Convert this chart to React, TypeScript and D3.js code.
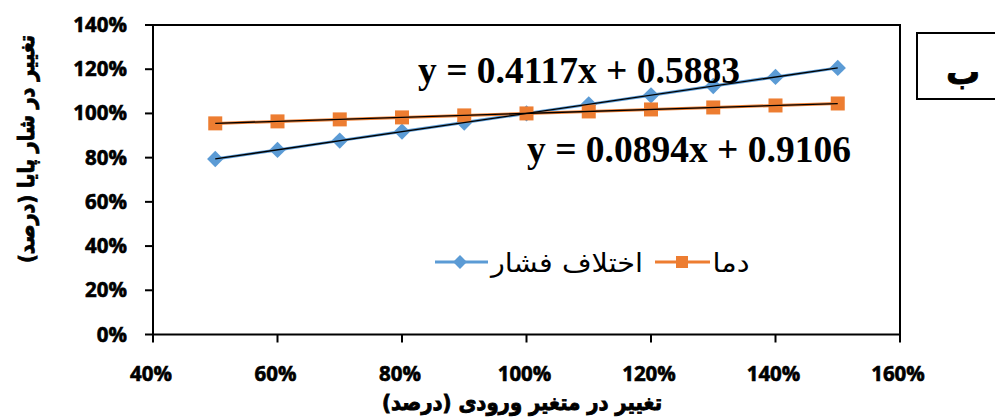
import React from "react";
import * as d3 from "d3";

// Input change (fraction of baseline) and normalized steady flux response
const inputs = [0.5, 0.6, 0.7, 0.8, 0.9, 1.0, 1.1, 1.2, 1.3, 1.4, 1.5];
const pressureDiff = [0.794, 0.835, 0.877, 0.918, 0.959, 1.0, 1.041, 1.082, 1.124, 1.165, 1.206];
const temperature = [0.955, 0.964, 0.973, 0.982, 0.991, 1.0, 1.009, 1.018, 1.027, 1.036, 1.045];

const xTicks = [0.4, 0.6, 0.8, 1.0, 1.2, 1.4, 1.6];
const yTicks = [0, 0.2, 0.4, 0.6, 0.8, 1.0, 1.2, 1.4];

// Linear trendline coefficients [slope, intercept]
const pressureFit = [0.4117, 0.5883];
const temperatureFit = [0.0894, 0.9106];

const seriesNames = ["اختلاف فشار", "دما"];
const blue = "#5B9BD5";
const orange = "#ED7D31";

const W = 995;
const H = 419;
const left = 153;
const right = 900;
const top = 25;
const bottom = 334.5;

export default function App() {
  const x = d3.scaleLinear().domain([0.4, 1.6]).range([left, right]);
  const y = d3.scaleLinear().domain([0, 1.4]).range([bottom, top]);
  const pct = d3.format(".0%");

  const line = d3
    .line<number>()
    .x((_, i) => x(inputs[i]))
    .y((d) => y(d));

  const trend = (fit: number[]) =>
    d3
      .line<number>()
      .x((v) => x(v))
      .y((v) => y(fit[0] * v + fit[1]))([inputs[0], inputs[inputs.length - 1]]) as string;

  const diamond = d3.symbol().type(d3.symbolDiamond2).size(170)() as string;

  const tickFont = "'Open Sans', 'DejaVu Sans', sans-serif";
  const arFont = "'DejaVu Sans', sans-serif";
  const eqFont = "'Liberation Serif', 'Times New Roman', serif";

  return (
    <svg width={W} height={H} style={{ position: "absolute", left: 0, top: 0 }}>
      <rect width={W} height={H} fill="#fff" />

      {/* plot frame */}
      <rect x={left} y={top} width={right - left} height={bottom - top} fill="none" stroke="#000" strokeWidth={2} />

      {/* y ticks and labels */}
      {yTicks.map((t) => (
        <g key={"y" + t}>
          <line x1={left - 8} x2={left} y1={y(t)} y2={y(t)} stroke="#000" strokeWidth={2} />
          <text
            x={127}
            y={y(t) + 7}
            textAnchor="end"
            fontFamily={tickFont}
            fontWeight="bold"
            fontSize={20.5}
            stroke="#000"
            strokeWidth={0.6}
          >
            {pct(t)}
          </text>
        </g>
      ))}

      {/* x ticks and labels */}
      {xTicks.map((t) => (
        <g key={"x" + t}>
          <line x1={x(t)} x2={x(t)} y1={bottom} y2={bottom + 8} stroke="#000" strokeWidth={2} />
          <text
            x={x(t) - 2}
            y={381}
            textAnchor="middle"
            fontFamily={tickFont}
            fontWeight="bold"
            fontSize={20.5}
            stroke="#000"
            strokeWidth={0.6}
          >
            {pct(t)}
          </text>
        </g>
      ))}

      {/* series lines */}
      <path d={line(pressureDiff) as string} fill="none" stroke={blue} strokeWidth={3} />
      <path d={line(temperature) as string} fill="none" stroke={orange} strokeWidth={3} />

      {/* markers */}
      {pressureDiff.map((v, i) => (
        <path key={"d" + i} d={diamond} transform={`translate(${x(inputs[i])},${y(v)})`} fill={blue} />
      ))}
      {temperature.map((v, i) => (
        <rect key={"s" + i} x={x(inputs[i]) - 7} y={y(v) - 7} width={14} height={14} fill={orange} />
      ))}

      {/* trendlines */}
      <path d={trend(pressureFit)} stroke="#000" strokeWidth={1.3} fill="none" />
      <path d={trend(temperatureFit)} stroke="#000" strokeWidth={1.3} fill="none" />

      {/* trendline equations */}
      <text x={418} y={83} fontFamily={eqFont} fontWeight="bold" fontSize={37.5}>
        {`y = ${pressureFit[0]}x + ${pressureFit[1]}`}
      </text>
      <text x={527} y={162} fontFamily={eqFont} fontWeight="bold" fontSize={37.5}>
        {`y = ${temperatureFit[0]}x + ${temperatureFit[1]}`}
      </text>

      {/* legend */}
      <line x1={435} x2={488} y1={262} y2={262} stroke={blue} strokeWidth={3} />
      <path d={diamond} transform="translate(460,262) scale(0.85)" fill={blue} />
      <text x={567} y={272} textAnchor="middle" fontFamily={arFont} fontSize={26} textLength={152} lengthAdjust="spacingAndGlyphs">
        {seriesNames[0]}
      </text>
      <line x1={655} x2={710} y1={262} y2={262} stroke={orange} strokeWidth={3} />
      <rect x={676} y={256} width={12} height={12} fill={orange} />
      <text x={731} y={272} textAnchor="middle" fontFamily={arFont} fontSize={26} textLength={37} lengthAdjust="spacingAndGlyphs">
        {seriesNames[1]}
      </text>

      {/* panel label */}
      <rect x={917} y={33} width={90} height={66} fill="#fff" stroke="#000" strokeWidth={2} />
      <text x={963} y={84} textAnchor="middle" fontFamily={arFont} fontWeight="bold" fontSize={34} stroke="#000" strokeWidth={0.8}>
        ب
      </text>

      {/* axis titles */}
      <text
        transform="translate(34,149) rotate(-90)"
        textAnchor="middle"
        fontFamily={arFont}
        fontWeight="bold"
        fontSize={22}
        stroke="#000"
        strokeWidth={0.9}
        textLength={228}
        lengthAdjust="spacingAndGlyphs"
      >
        تغییر در شار پایا (درصد)
      </text>
      <text
        x={522}
        y={410}
        textAnchor="middle"
        fontFamily={arFont}
        fontWeight="bold"
        fontSize={22}
        stroke="#000"
        strokeWidth={0.9}
        textLength={280}
        lengthAdjust="spacingAndGlyphs"
      >
        تغییر در متغیر ورودی (درصد)
      </text>
    </svg>
  );
}
